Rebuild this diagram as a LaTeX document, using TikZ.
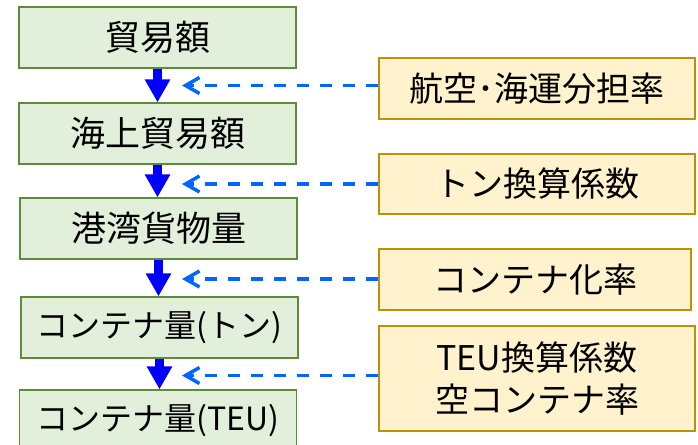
\documentclass[tikz,border=0pt]{standalone}
\usepackage{fontspec}
\setmainfont{Noto Sans CJK JP}
\usetikzlibrary{arrows.meta}
\definecolor{gfill}{HTML}{E2EFDA}
\definecolor{gdraw}{HTML}{5E8A3C}
\definecolor{yfill}{HTML}{FFF2CC}
\definecolor{ydraw}{HTML}{BF9000}
\definecolor{arrowblue}{HTML}{0000FF}
\definecolor{dashblue}{HTML}{0066FF}
\tikzset{
  lbox/.style={draw=gdraw, fill=gfill, line width=1.2pt, minimum width=277pt, minimum height=61pt, inner sep=0pt, font=\fontsize{35}{40}\selectfont},
  lboxs/.style={lbox, font=\fontsize{32}{36}\selectfont},
  rbox/.style={draw=ydraw, fill=yfill, line width=1.2pt, minimum width=316pt, minimum height=61pt, inner sep=0pt, align=center, font=\fontsize{34}{42}\selectfont},
  blockarrow/.style={draw=arrowblue, fill=arrowblue, line width=9pt, -{Triangle[length=23pt,width=24pt]}},
  dasharrow/.style={draw=dashblue, line width=3.5pt, dash pattern=on 12pt off 11pt, -{Straight Barb[length=14pt,width=16pt]}}
}
\begin{document}
\begin{tikzpicture}[x=1pt,y=-1pt]
\useasboundingbox (0,0) rectangle (698,444);
\node[lbox] (b1) at (157.5,37.5) {貿易額};
\node[lbox] (b2) at (157.5,133.5) {海上貿易額};
\node[lbox] (b3) at (158.5,228.5) {港湾貨物量};
\node[lboxs] (b4) at (159.5,327.5) {コンテナ量(トン)};
\node[lboxs] (b5) at (158,420.5) {コンテナ量(TEU)};
\node[rbox] (r1) at (537,88.5) {航空･海運分担率};
\node[rbox, minimum height=60pt] (r2) at (537,184) {トン換算係数};
\node[rbox, minimum width=312pt] (r3) at (535,279.5) {コンテナ化率};
\node[rbox, minimum height=105pt] (r4) at (537,378.5) {TEU換算係数\\空コンテナ率};
\draw[blockarrow] (b1.south) -- (b1.south |- b2.north);
\draw[blockarrow] (b2.south) -- (b2.south |- b3.north);
\draw[blockarrow] (b3.south) -- (b3.south |- b4.north);
\draw[blockarrow] (b4.south) -- (b4.south |- b5.north);
\coordinate (t1) at (182,85.5);
\coordinate (t2) at (182,184);
\coordinate (t3) at (182,279);
\coordinate (t4) at (182,375.5);
\draw[dasharrow] (t1 -| r1.west) -- (t1);
\draw[dasharrow] (t2 -| r2.west) -- (t2);
\draw[dasharrow] (t3 -| r3.west) -- (t3);
\draw[dasharrow] (t4 -| r4.west) -- (t4);
\end{tikzpicture}
\end{document}
